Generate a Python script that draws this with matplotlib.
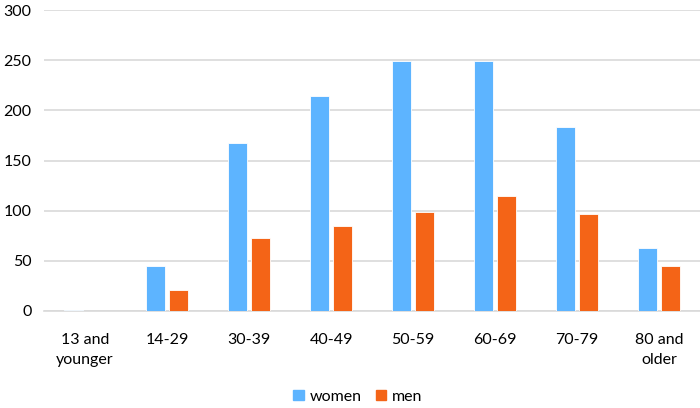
import numpy as np
import matplotlib.pyplot as plt
from matplotlib.patches import Patch

# dados
age_groups = ["13 and\nyounger", "14-29", "30-39", "40-49", "50-59", "60-69", "70-79", "80 and\nolder"]
women = [1, 45, 168, 214, 249, 249, 183, 63]
men = [0, 21, 73, 85, 99, 115, 97, 45]

blue = "#5DB4FF"
orange = "#F46417"

plt.rcParams["font.family"] = ["Lato", "DejaVu Sans"]

fig = plt.figure(figsize=(7, 4.08), dpi=100)
ax = fig.add_axes([0.063, 0.238, 0.937, 0.737])

x = np.arange(len(age_groups))
w = 0.23
ax.bar(x - 0.14, women, w, color=blue, edgecolor="white", linewidth=0.6, zorder=3)
ax.bar(x + 0.14, men, w, color=orange, edgecolor="white", linewidth=0.6, zorder=3)

ax.set_xlim(-0.5, len(age_groups) - 0.5)
ax.set_ylim(0, 300)
ax.set_yticks(range(0, 301, 50))
ax.yaxis.grid(True, color="#D9D9D9", linewidth=1.2, zorder=0)

for s in ["top", "right", "left"]:
    ax.spines[s].set_visible(False)
ax.spines["bottom"].set_color("#D9D9D9")
ax.spines["bottom"].set_linewidth(1.2)

ax.set_xticks(x)
ax.set_xticklabels(age_groups, fontsize=11.5, linespacing=1.5)
ax.tick_params(axis="both", length=0, labelsize=11.5, colors="black")
ax.tick_params(axis="x", pad=16)
ax.tick_params(axis="y", pad=9)

handles = [Patch(color=blue, label="women"), Patch(color=orange, label="men")]
fig.legend(handles=handles, loc="center", bbox_to_anchor=(0.511, 0.028), ncol=2,
           frameon=False, fontsize=11.5, handlelength=0.65, handleheight=0.65,
           handletextpad=0.35, columnspacing=0.9)

fig.savefig("out.png", dpi=100)
